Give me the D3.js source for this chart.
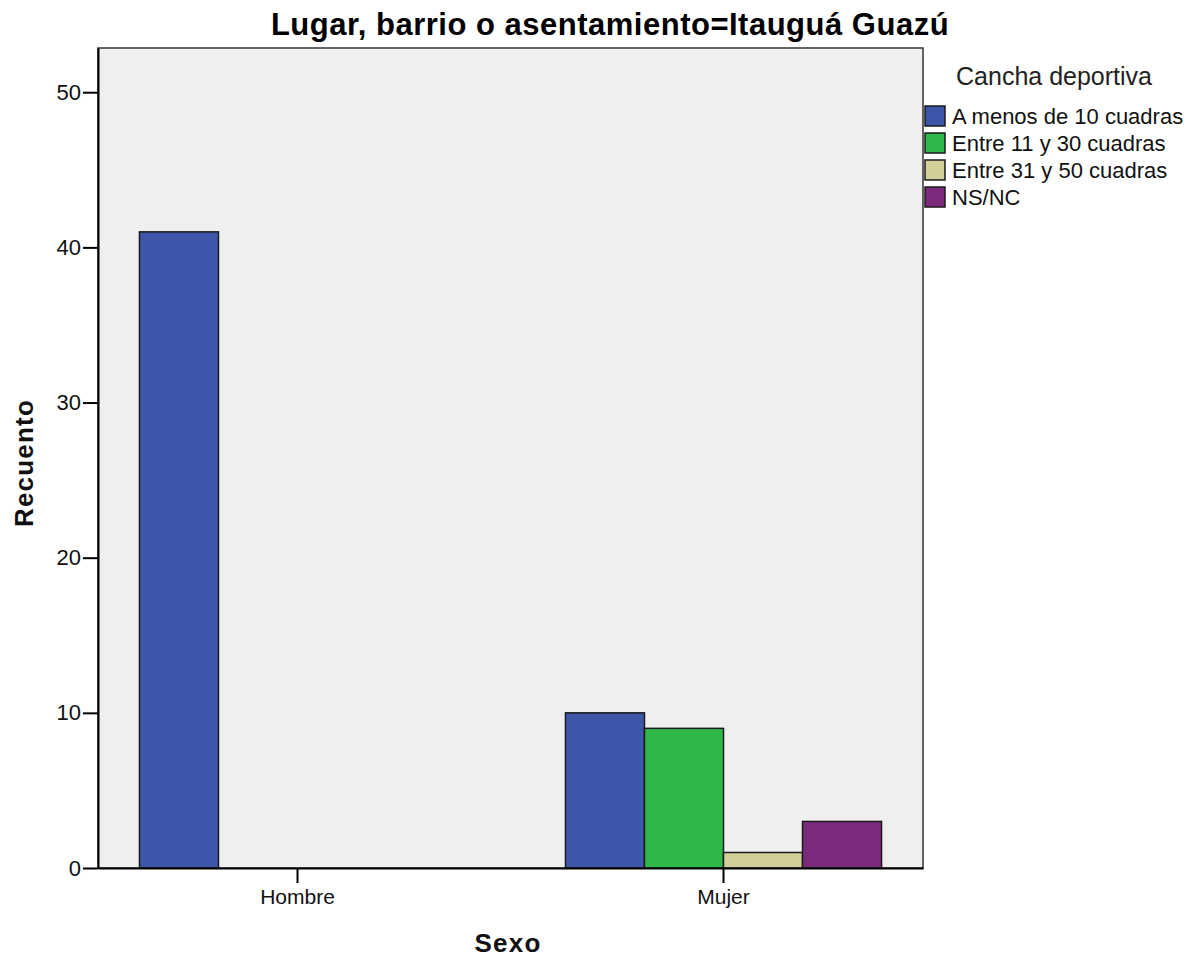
<!DOCTYPE html>
<html>
<head>
<meta charset="utf-8">
<script src="https://cdn.jsdelivr.net/npm/d3@7"></script>
<style>
  html, body { margin: 0; padding: 0; background: #fff; }
  svg { display: block; font-family: "Liberation Sans", Arial, sans-serif; }
</style>
</head>
<body>
<svg id="chart" width="1196" height="958"></svg>
<script>
const chartTitle = "Lugar, barrio o asentamiento=Itauguá Guazú";
const categories = ["Hombre", "Mujer"];
const seriesNames = ["A menos de 10 cuadras", "Entre 11 y 30 cuadras", "Entre 31 y 50 cuadras", "NS/NC"];
const seriesColors = ["#3e56a9", "#2fb84a", "#d4cf98", "#7c2a7b"];
const hombreValues = [41, 0, 0, 0];
const mujerValues = [10, 9, 1, 3];
const yTicks = [0, 10, 20, 30, 40, 50];
const legendTitle = "Cancha deportiva";
const xTitle = "Sexo";
const yTitle = "Recuento";

const valuesByCat = { "Hombre": hombreValues, "Mujer": mujerValues };

const svg = d3.select("#chart");
const plot = { left: 98, right: 923, top: 48, bottom: 868 };

const x = d3.scaleBand().domain(categories)
  .range([plot.left, plot.right]).paddingInner(0.258).paddingOuter(0.0973);
const xs = d3.scaleBand().domain(seriesNames).range([0, x.bandwidth()]).padding(0);
const y = d3.scaleLinear().domain([0, 52.85]).range([plot.bottom, plot.top]);

// plot background and frame
svg.append("rect")
  .attr("x", plot.left).attr("y", plot.top)
  .attr("width", plot.right - plot.left).attr("height", plot.bottom - plot.top)
  .attr("fill", "#efefef").attr("stroke", "#333").attr("stroke-width", 1.5);

// bars
const data = [];
categories.forEach(c => valuesByCat[c].forEach((v, i) => data.push({ c, s: seriesNames[i], v, i })));
svg.append("g").selectAll("rect").data(data.filter(d => d.v > 0)).join("rect")
  .attr("x", d => x(d.c) + xs(d.s))
  .attr("y", d => y(d.v))
  .attr("width", xs.bandwidth())
  .attr("height", d => y(0) - y(d.v))
  .attr("fill", d => seriesColors[d.i])
  .attr("stroke", "#1a1a1a").attr("stroke-width", 1.5);

// y axis
const yAxis = svg.append("g").attr("transform", `translate(${plot.left},0)`)
  .call(d3.axisLeft(y).tickValues(yTicks).tickSize(15).tickPadding(2).tickSizeOuter(0));
yAxis.select(".domain").attr("stroke", "#000").attr("stroke-width", 2);
yAxis.selectAll(".tick line").attr("stroke", "#000").attr("stroke-width", 2);
yAxis.selectAll("text").attr("font-size", 22).attr("fill", "#111")
  .attr("font-family", "'Liberation Sans', Arial, sans-serif");

// x axis
const xAxis = svg.append("g").attr("transform", `translate(0,${plot.bottom})`)
  .call(d3.axisBottom(x).tickSize(15).tickPadding(6).tickSizeOuter(0));
xAxis.select(".domain").attr("stroke", "#000").attr("stroke-width", 2);
xAxis.selectAll(".tick line").attr("stroke", "#000").attr("stroke-width", 2);
xAxis.selectAll("text").attr("font-size", 21).attr("fill", "#111")
  .attr("font-family", "'Liberation Sans', Arial, sans-serif");

// titles
svg.append("text").attr("x", 610).attr("y", 35).attr("text-anchor", "middle")
  .attr("font-size", 31).attr("font-weight", "bold").attr("letter-spacing", 0.5)
  .attr("fill", "#000").text(chartTitle);
svg.append("text").attr("x", 508).attr("y", 952).attr("text-anchor", "middle")
  .attr("font-size", 26).attr("font-weight", "bold").attr("letter-spacing", 1.2)
  .attr("fill", "#111").text(xTitle);
svg.append("text").attr("transform", "translate(33,463) rotate(-90)").attr("text-anchor", "middle")
  .attr("font-size", 26).attr("font-weight", "bold").attr("letter-spacing", 1.2)
  .attr("fill", "#111").text(yTitle);

// legend
const lg = svg.append("g");
lg.append("text").attr("x", 1054).attr("y", 85).attr("text-anchor", "middle")
  .attr("font-size", 25).attr("fill", "#222").text(legendTitle);
const items = lg.selectAll("g.item").data(seriesNames).join("g")
  .attr("transform", (d, i) => `translate(925,${106 + i * 27})`);
items.append("rect").attr("width", 20).attr("height", 20)
  .attr("fill", (d, i) => seriesColors[i]).attr("stroke", "#1a1a1a").attr("stroke-width", 1.5);
items.append("text").attr("x", 27).attr("y", 18).attr("font-size", 22)
  .attr("fill", "#111").text(d => d);
</script>
</body>
</html>
